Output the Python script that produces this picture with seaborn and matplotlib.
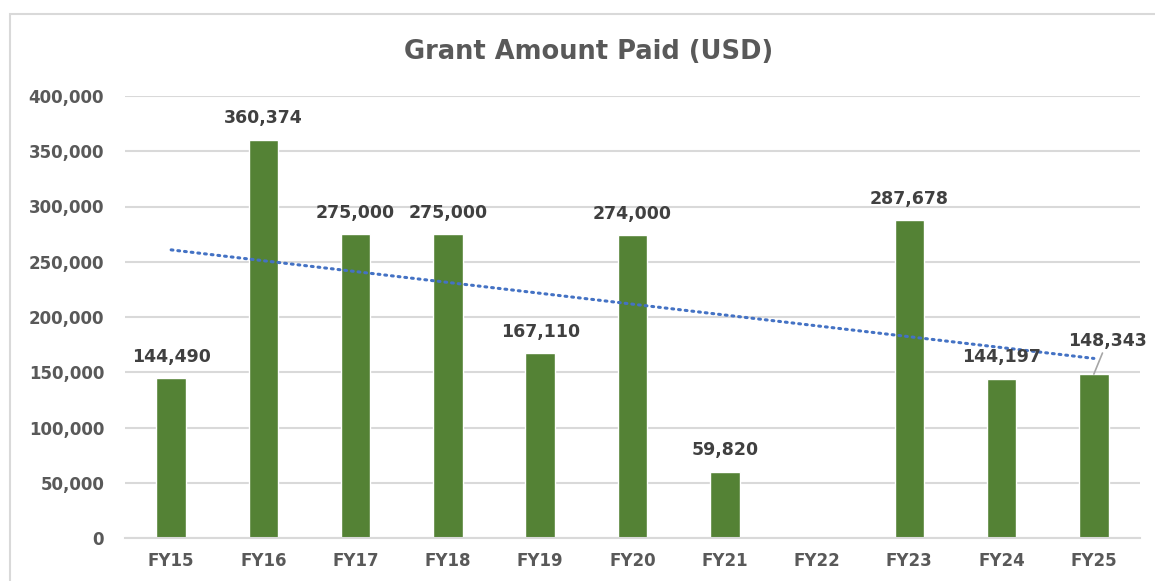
import numpy as np
import pandas as pd
import matplotlib
matplotlib.use("Agg")
import matplotlib.pyplot as plt
import seaborn as sns
from matplotlib.patches import Rectangle

categories = ["FY15", "FY16", "FY17", "FY18", "FY19", "FY20", "FY21", "FY22", "FY23", "FY24", "FY25"]
amounts = [144490, 360374, 275000, 275000, 167110, 274000, 59820, np.nan, 287678, 144197, 148343]
yticks = [0, 50000, 100000, 150000, 200000, 250000, 300000, 350000, 400000]

sns.set_theme(style="white")
plt.rcParams['font.family'] = ['DejaVu Sans']

df = pd.DataFrame({"FY": categories, "Amount": amounts})

fig = plt.figure(figsize=(11.55, 5.81), dpi=100)
ax = fig.add_axes([125/1155, 1-538/581, (1140-125)/1155, (538-96)/581])

sns.barplot(data=df, x="FY", y="Amount", order=categories, color="#548235",
            saturation=1, width=0.32, ax=ax, zorder=2)

# trendline (linear fit over available values)
xs = np.arange(len(categories))
vals = np.array(amounts, dtype=float)
mask = ~np.isnan(vals)
coef = np.polyfit(xs[mask] + 1, vals[mask], 1)
tx = np.array([0, len(categories) - 1])
ty = np.polyval(coef, tx + 1)
ax.plot(tx, ty, color="#4472C4", linewidth=2.2, linestyle=(0, (0.6, 1.6)),
        dash_capstyle="round", zorder=3)

ax.set_ylim(0, 400000)
ax.set_xlim(-0.5, len(categories) - 0.5)
ax.set_yticks(yticks)
ax.set_yticklabels([f"{v:,}" for v in yticks])
ax.yaxis.grid(True, color="#d9d9d9", linewidth=1.5, zorder=0)
ax.set_axisbelow(True)
for s in ["top", "right", "left"]:
    ax.spines[s].set_visible(False)
ax.spines["bottom"].set_color("#d9d9d9")
ax.spines["bottom"].set_linewidth(1.5)
ax.set_xlabel("")
ax.set_ylabel("")
ax.tick_params(axis="both", length=0, labelsize=12, labelcolor="#595959")
ax.tick_params(axis="y", pad=15)
ax.tick_params(axis="x", pad=10)
for lbl in ax.get_xticklabels() + ax.get_yticklabels():
    lbl.set_fontweight("bold")

# data labels
for i, v in enumerate(amounts):
    if np.isnan(v):
        continue
    if categories[i] == "FY25":
        ax.annotate(f"{int(v):,}", xy=(i, v), xytext=(10, 24), textcoords="offset points",
                    ha="center", va="center", fontsize=12.5, fontweight="bold", color="#404040",
                    arrowprops=dict(arrowstyle="-", color="#a6a6a6", linewidth=1.2,
                                    shrinkA=0, shrinkB=0, relpos=(0.45, 0)))
    else:
        ax.annotate(f"{int(v):,}", xy=(i, v), xytext=(0, 9), textcoords="offset points",
                    ha="center", va="bottom", fontsize=12.5, fontweight="bold", color="#404040")

fig.text(589/1155, 1-52/581, "Grant Amount Paid (USD)", ha="center", va="center",
         fontsize=18.5, fontweight="bold", color="#595959", family="DejaVu Sans")

# chart border
fig.patches.append(Rectangle((10/1155, -0.05), 1.2, 1 - 14/581 + 0.05, transform=fig.transFigure,
                             fill=False, edgecolor="#d9d9d9", linewidth=1.5, zorder=0))

fig.savefig("out.png", dpi=100)
